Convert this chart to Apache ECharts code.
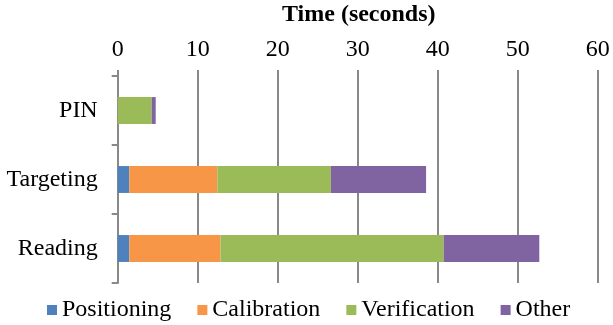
<!DOCTYPE html>
<html>
<head>
<meta charset="utf-8">
<script src="https://cdn.jsdelivr.net/npm/echarts@6/dist/echarts.min.js"></script>
<style>
html,body{margin:0;padding:0;background:#fff;}
#chart{width:613px;height:325px;}
</style>
</head>
<body>
<div id="chart"></div>
<script>
const categories = ['PIN', 'Targeting', 'Reading'];
const positioning = [0, 1.45, 1.45];
const calibration = [0, 11.0, 11.4];
const verification = [4.25, 14.2, 27.9];
const other = [0.5, 11.9, 11.95];
const xTicks = [0, 10, 20, 30, 40, 50, 60];

const FONT = 'Liberation Serif';
const GRAY = '#898989';
const FS = 24;

const chart = echarts.init(document.getElementById('chart'));
function bar(name, data, color) {
  return {
    name: name, type: 'bar', stack: 'total', data: data,
    barCategoryGap: '61%',
    itemStyle: { color: color },
    emphasis: { disabled: true }
  };
}
chart.setOption({
  animation: false,
  textStyle: { fontFamily: FONT, color: '#000' },
  title: {
    text: 'Time (seconds)',
    left: 282, top: 3, padding: 0,
    textStyle: { fontFamily: FONT, fontSize: FS, fontWeight: 'bold', color: '#000' }
  },
  grid: { left: 117.7, right: 15.3, top: 76, bottom: 42 },
  xAxis: {
    type: 'value', position: 'top',
    min: xTicks[0], max: xTicks[xTicks.length - 1], interval: xTicks[1] - xTicks[0],
    axisLine: { show: false },
    axisTick: { show: true, length: 6, lineStyle: { color: GRAY, width: 2 } },
    splitLine: { show: true, lineStyle: { color: GRAY, width: 2 } },
    axisLabel: { fontFamily: FONT, fontSize: FS, color: '#000', margin: 14 }
  },
  yAxis: {
    type: 'category', inverse: true, data: categories,
    axisLine: { show: true, lineStyle: { color: GRAY, width: 2 } },
    axisTick: { show: true, length: 6, lineStyle: { color: GRAY, width: 2 } },
    axisLabel: { fontFamily: FONT, fontSize: FS, color: '#000', margin: 20 }
  },
  legend: {
    left: 42, top: 293,
    itemWidth: 10, itemHeight: 10, itemGap: 26,
    icon: 'rect',
    textStyle: { fontFamily: FONT, fontSize: FS, color: '#000' },
    data: ['Positioning', 'Calibration', 'Verification', 'Other']
  },
  series: [
    bar('Positioning', positioning, '#4F81BD'),
    bar('Calibration', calibration, '#F79646'),
    bar('Verification', verification, '#9BBB59'),
    bar('Other', other, '#8064A2')
  ]
});
</script>
</body>
</html>
